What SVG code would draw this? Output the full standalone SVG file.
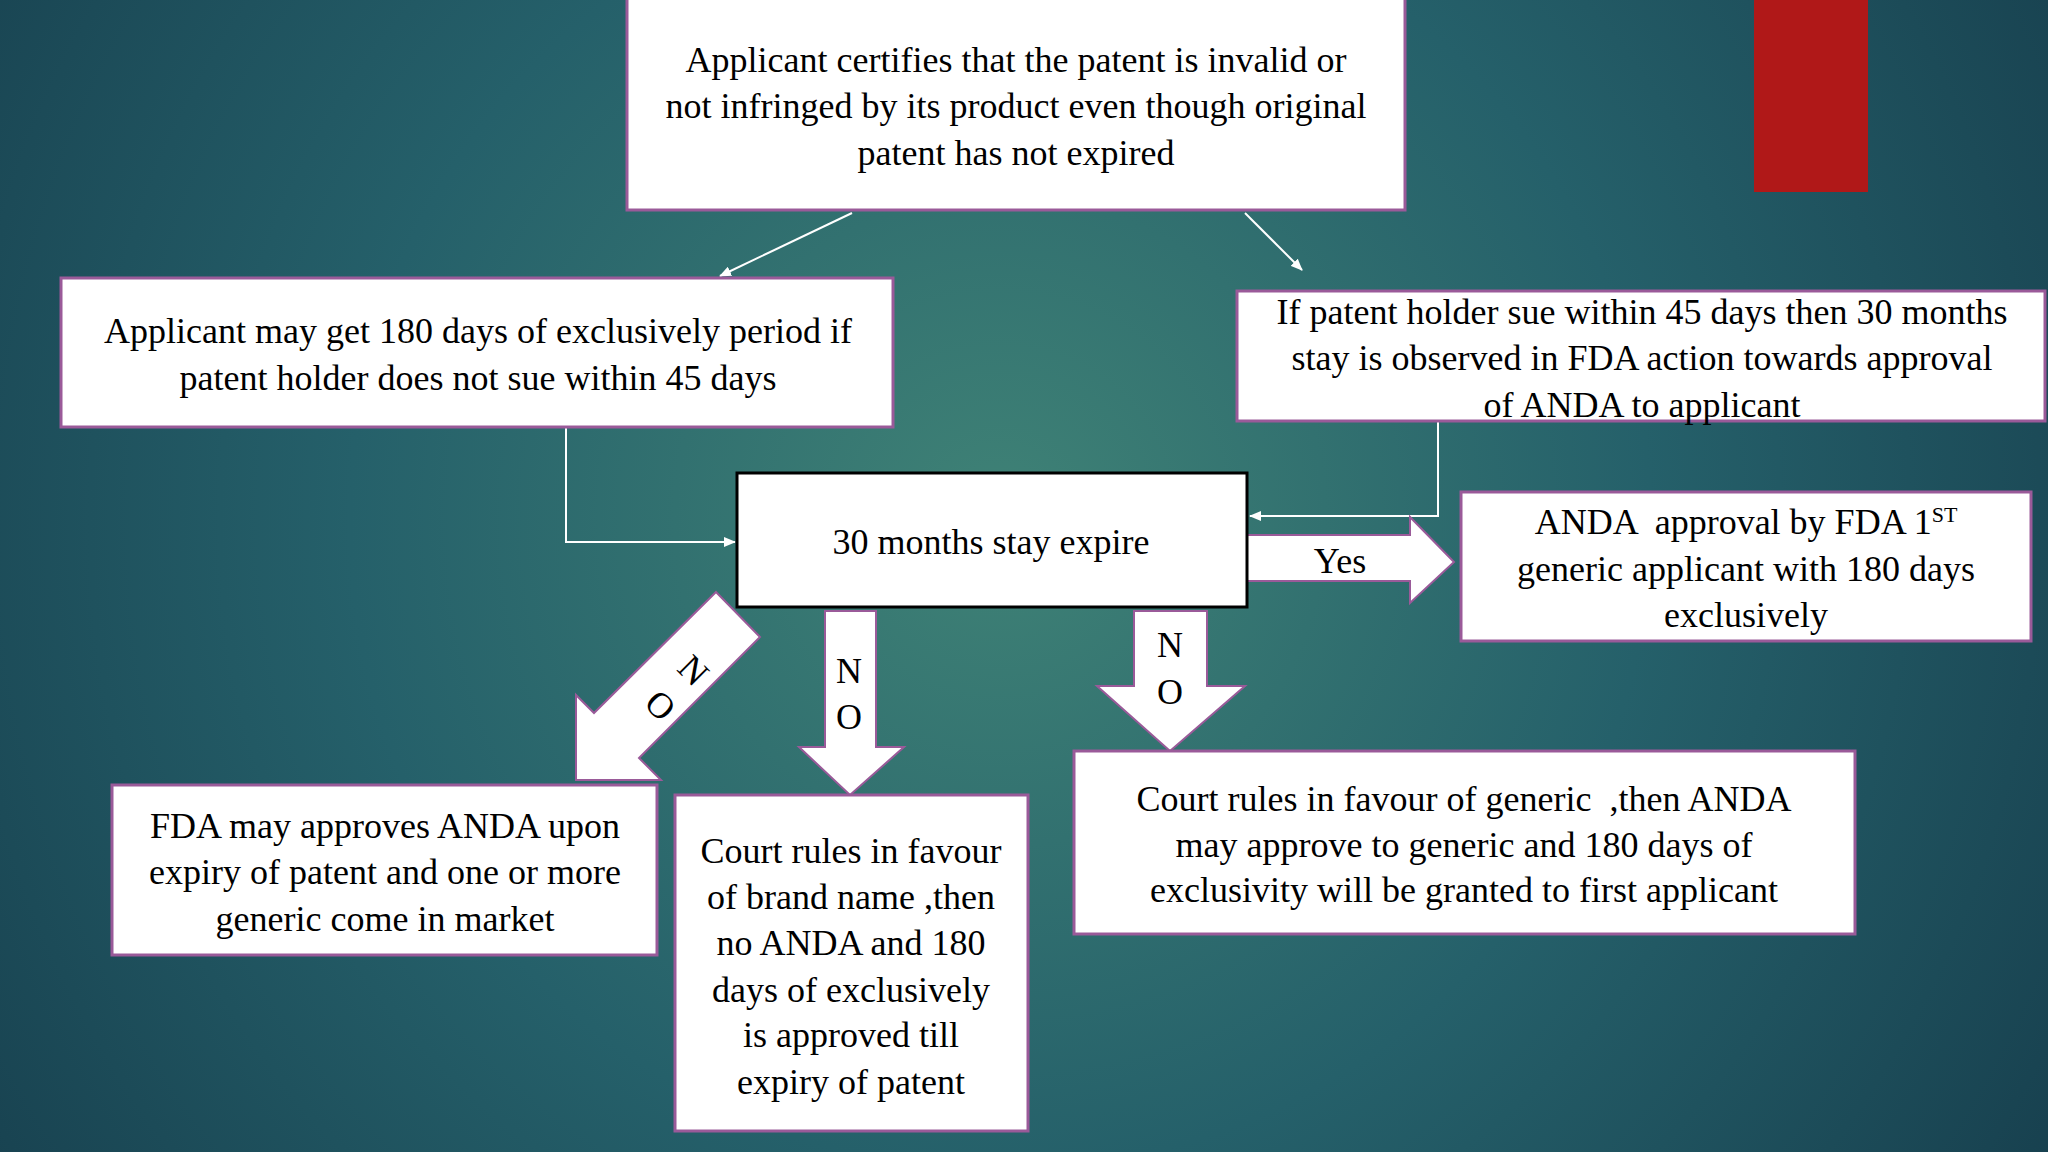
<svg xmlns="http://www.w3.org/2000/svg" width="2048" height="1152" viewBox="0 0 2048 1152">
<defs>
<radialGradient id="bg" cx="1000" cy="520" r="1300" gradientUnits="userSpaceOnUse">
<stop offset="0" stop-color="#3f8276"/><stop offset="0.5" stop-color="#25606a"/><stop offset="1" stop-color="#163d4c"/>
</radialGradient>
<marker id="ah" markerWidth="12" markerHeight="10" refX="11" refY="5" orient="auto" markerUnits="userSpaceOnUse"><path d="M0,0 L12,5 L0,10 Z" fill="#fff"/></marker>
<style>
.box{fill:#fff;stroke:#9a5a99;stroke-width:3}
.blk{fill:#fff;stroke:#000;stroke-width:3}
.t{font-family:"Liberation Serif",serif;font-size:36px;fill:#000;text-anchor:middle}
.ln{stroke:#fff;stroke-width:2;fill:none;marker-end:url(#ah)}
.arr{fill:#fff;stroke:#9a5a99;stroke-width:2}
</style>
</defs>
<rect width="2048" height="1152" fill="url(#bg)"/>
<rect x="1754" y="0" width="114" height="192" fill="#b01818"/>
<g id="connectors">
<line class="ln" x1="852" y1="213" x2="720" y2="276"/>
<line class="ln" x1="1245" y1="213" x2="1302" y2="270"/>
<polyline class="ln" points="566,427 566,542 735,542"/>
<polyline class="ln" points="1438,421 1438,516 1250,516"/>
</g>
<g id="arrow-yes"><polygon class="arr" points="1247,535 1410,535 1410,517 1454,562 1410,603 1410,581 1247,581"/><text class="t" x="1340" y="573">Yes</text></g>
<g id="arrow-no1"><polygon class="arr" points="716,592 760,637 639,758 661,780 576,780 576,695 594,713"/>
<text class="t" transform="translate(685,679) rotate(45)">N</text><text class="t" transform="translate(652,714) rotate(45)">O</text></g>
<g id="arrow-no2"><polygon class="arr" points="825,611 876,611 876,747 904,747 850,795 799,747 825,747"/>
<text class="t" x="849" y="683">N</text><text class="t" x="849" y="729">O</text></g>
<g id="arrow-no3"><polygon class="arr" points="1134,611 1207,611 1207,686 1245,686 1170,751 1097,686 1134,686"/>
<text class="t" x="1170" y="657">N</text><text class="t" x="1170" y="704">O</text></g>
<g id="top"><rect class="box" x="627" y="-3" width="778" height="213"/>
<text class="t" x="1016" y="72">Applicant certifies that the patent is invalid or</text>
<text class="t" x="1016" y="118">not infringed by its product even though original</text>
<text class="t" x="1016" y="165">patent has not expired</text></g>
<g id="left"><rect class="box" x="61" y="278" width="832" height="149"/>
<text class="t" x="478" y="343">Applicant may get 180 days of exclusively period if</text>
<text class="t" x="478" y="390">patent holder does not sue within 45 days</text></g>
<g id="right"><rect class="box" x="1237" y="291" width="808" height="130"/>
<text class="t" x="1642" y="324">If patent holder sue within 45 days then 30 months</text>
<text class="t" x="1642" y="370">stay is observed in FDA action towards approval</text>
<text class="t" x="1642" y="417">of ANDA to applicant</text></g>
<g id="center"><rect class="blk" x="737" y="473" width="510" height="134"/>
<text class="t" x="991" y="554">30 months stay expire</text></g>
<g id="anda"><rect class="box" x="1461" y="492" width="570" height="149"/>
<text class="t" x="1746" y="534" xml:space="preserve">ANDA  approval by FDA 1<tspan font-size="22" dy="-12">ST</tspan></text>
<text class="t" x="1746" y="581">generic applicant with 180 days</text>
<text class="t" x="1746" y="627">exclusively</text></g>
<g id="fda"><rect class="box" x="112" y="785" width="545" height="170"/>
<text class="t" x="385" y="838">FDA may approves ANDA upon</text>
<text class="t" x="385" y="884">expiry of patent and one or more</text>
<text class="t" x="385" y="931">generic come in market</text></g>
<g id="brand"><rect class="box" x="675" y="795" width="353" height="336"/>
<text class="t" x="851" y="863">Court rules in favour</text>
<text class="t" x="851" y="909">of brand name ,then</text>
<text class="t" x="851" y="955">no ANDA and 180</text>
<text class="t" x="851" y="1002">days of exclusively</text>
<text class="t" x="851" y="1047">is approved till</text>
<text class="t" x="851" y="1094">expiry of patent</text></g>
<g id="generic"><rect class="box" x="1074" y="751" width="781" height="183"/>
<text class="t" x="1464" y="811" xml:space="preserve">Court rules in favour of generic  ,then ANDA</text>
<text class="t" x="1464" y="857">may approve to generic and 180 days of</text>
<text class="t" x="1464" y="902">exclusivity will be granted to first applicant</text></g>
</svg>
